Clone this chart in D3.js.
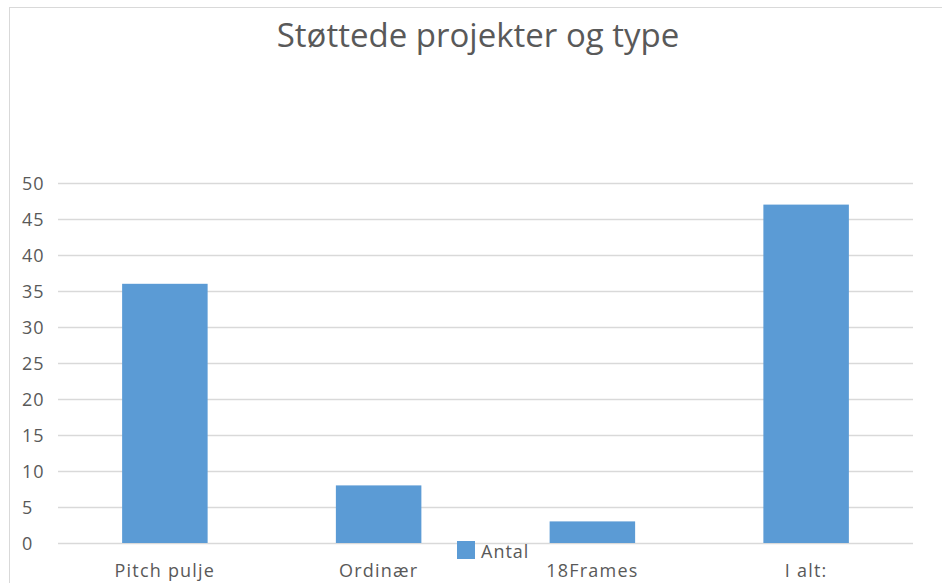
<!DOCTYPE html>
<html>
<head>
<meta charset="utf-8">
<script src="https://cdn.jsdelivr.net/npm/d3@7"></script>
<style>
    body { margin: 0; background: #fff; }
    text { font-family: "Open Sans", "Noto Sans", sans-serif; fill: #595959; }
</style>
</head>
<body>
<svg id="chart" width="942" height="583"></svg>
<script>
const categories = ['Pitch pulje', 'Ordinær', '18Frames', 'I alt:'];
const antal = [36, 8, 3, 47];
const yTicks = [0, 5, 10, 15, 20, 25, 30, 35, 40, 45, 50];
const seriesName = 'Antal';
const chartTitle = 'Støttede projekter og type';

const svg = d3.select('#chart');
const plot = { left: 58, right: 913, top: 183, bottom: 543 };

// frame of the chart area
svg.append('rect')
    .attr('x', 9.5).attr('y', 7.5)
    .attr('width', 960).attr('height', 600)
    .attr('fill', 'none').attr('stroke', '#d9d9d9');

const x = d3.scaleBand().domain(categories).range([plot.left, plot.right]).padding(0);
const y = d3.scaleLinear().domain([0, 50]).range([plot.bottom, plot.top]);

// gridlines
svg.append('g').selectAll('line')
    .data(yTicks)
    .enter()
    .append('line')
    .attr('x1', plot.left).attr('x2', plot.right)
    .attr('y1', d => Math.round(y(d)) + 0.5)
    .attr('y2', d => Math.round(y(d)) + 0.5)
    .attr('stroke', '#d9d9d9')
    .attr('stroke-width', 1.3);

// y tick labels (left aligned like the original)
svg.append('g').selectAll('text')
    .data(yTicks)
    .enter()
    .append('text')
    .attr('x', 22)
    .attr('y', d => y(d) + 7)
    .attr('font-size', 18)
    .attr('letter-spacing', 1)
    .text(d => d);

// bars
const barWidth = x.bandwidth() * 0.4;
svg.append('g').selectAll('rect')
    .data(categories)
    .enter()
    .append('rect')
    .attr('x', d => x(d) + (x.bandwidth() - barWidth) / 2)
    .attr('y', (d, i) => y(antal[i]))
    .attr('width', barWidth)
    .attr('height', (d, i) => y(0) - y(antal[i]))
    .attr('fill', '#5b9bd5');

// category labels
svg.append('g').selectAll('text')
    .data(categories)
    .enter()
    .append('text')
    .attr('x', d => x(d) + x.bandwidth() / 2)
    .attr('y', 577)
    .attr('text-anchor', 'middle')
    .attr('font-size', 18)
    .attr('letter-spacing', 1.2)
    .text(d => d);

// title
svg.append('text')
    .attr('x', 478)
    .attr('y', 47)
    .attr('text-anchor', 'middle')
    .attr('font-size', 33)
    .text(chartTitle);

// legend
const legend = svg.append('g');
legend.append('rect')
    .attr('x', 457).attr('y', 541)
    .attr('width', 18).attr('height', 18)
    .attr('fill', '#5b9bd5');
legend.append('text')
    .attr('x', 481).attr('y', 558)
    .attr('font-size', 18)
    .attr('letter-spacing', 1)
    .text(seriesName);
</script>
</body>
</html>
